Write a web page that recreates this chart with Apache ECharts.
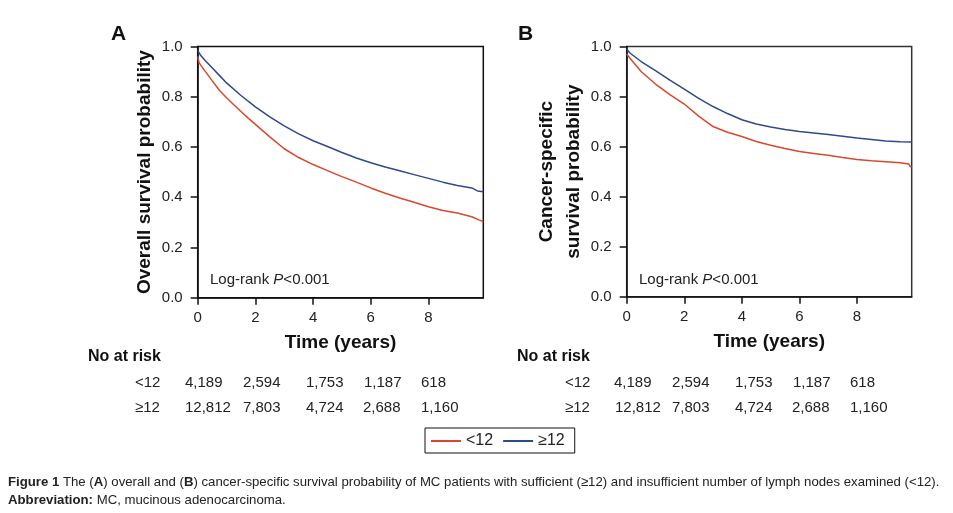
<!DOCTYPE html>
<html><head><meta charset="utf-8">
<script src="https://cdn.jsdelivr.net/npm/echarts@6/dist/echarts.min.js"></script>
<style>html,body{margin:0;padding:0;background:#fff}#c{width:953px;height:513px}</style>
</head><body><div id="c"></div>
<script>
// ---- Data ----
const osLowT  = [0, 0.05, 0.25, 0.5, 0.75, 1.0, 1.25, 1.5, 1.75, 2.0, 2.5, 3.0, 3.5, 4.0, 4.5, 5.0, 5.5, 6.0, 6.5, 7.0, 7.5, 8.0, 8.5, 9.0, 9.5, 9.75, 9.9];
const osLowS  = [0.96, 0.935, 0.903, 0.864, 0.826, 0.796, 0.768, 0.741, 0.715, 0.69, 0.64, 0.593, 0.558, 0.53, 0.506, 0.482, 0.46, 0.437, 0.416, 0.397, 0.38, 0.362, 0.347, 0.337, 0.322, 0.31, 0.303];
const osHighT = [0, 0.1, 0.25, 0.5, 0.75, 1.0, 1.5, 2.0, 2.5, 3.0, 3.5, 4.0, 4.5, 5.0, 5.5, 6.0, 6.5, 7.0, 7.5, 8.0, 8.5, 9.0, 9.5, 9.7, 9.9];
const osHighS = [0.985, 0.965, 0.945, 0.915, 0.885, 0.855, 0.805, 0.76, 0.72, 0.684, 0.652, 0.625, 0.602, 0.578, 0.556, 0.537, 0.52, 0.505, 0.49, 0.475, 0.46, 0.447, 0.437, 0.425, 0.422];
const cssLowT  = [0, 0.1, 0.5, 1.0, 1.5, 2.0, 2.5, 3.0, 3.5, 4.0, 4.5, 5.0, 5.5, 6.0, 6.5, 7.0, 7.5, 8.0, 8.5, 9.0, 9.5, 9.8, 9.85, 9.9];
const cssLowS  = [0.97, 0.955, 0.9, 0.85, 0.808, 0.77, 0.722, 0.68, 0.657, 0.64, 0.62, 0.605, 0.592, 0.58, 0.572, 0.565, 0.556, 0.548, 0.543, 0.539, 0.535, 0.53, 0.52, 0.518];
const cssHighT = [0, 0.1, 0.5, 1.0, 1.5, 2.0, 2.5, 3.0, 3.5, 4.0, 4.5, 5.0, 5.5, 6.0, 6.5, 7.0, 7.5, 8.0, 8.5, 9.0, 9.5, 9.9];
const cssHighS = [0.99, 0.975, 0.94, 0.904, 0.866, 0.83, 0.793, 0.76, 0.732, 0.707, 0.69, 0.678, 0.668, 0.66, 0.654, 0.648, 0.641, 0.634, 0.628, 0.622, 0.619, 0.618];
const groups = ['<12', '\u226512'];
const riskLow  = ['4,189', '2,594', '1,753', '1,187', '618'];
const riskHigh = ['12,812', '7,803', '4,724', '2,688', '1,160'];
const yTicks = [0, 0.2, 0.4, 0.6, 0.8, 1.0];
const xTicks = [0, 2, 4, 6, 8];

const RED = '#d9482c', BLUE = '#2e4a8a';
const FONT = '"Liberation Sans", Arial, sans-serif';
const zip = (t, s) => t.map((v, i) => [v, s[i]]);

const chart = echarts.init(document.getElementById('c'));

function xAxisCfg(gi) {
  return {
    type: 'value', gridIndex: gi, min: 0, max: 9.9, interval: 2,
    name: 'Time (years)', nameLocation: 'middle', nameGap: 36,
    nameTextStyle: { fontFamily: FONT, fontWeight: 'bold', fontSize: 19, color: '#111' },
    axisLine: { show: true, onZero: false, lineStyle: { color: '#111', width: 1.5 } },
    axisTick: { show: true, length: 7, customValues: xTicks, lineStyle: { color: '#111', width: 1.5 } },
    axisLabel: { fontFamily: FONT, fontSize: 15, color: '#222', margin: 13, customValues: xTicks,
      formatter: v => String(v) },
    splitLine: { show: false }
  };
}
function yAxisCfg(gi, name, gap) {
  return {
    type: 'value', gridIndex: gi, min: 0, max: 1, interval: 0.2,
    name: name, nameLocation: 'middle', nameGap: gap,
    nameTextStyle: { fontFamily: FONT, fontWeight: 'bold', fontSize: 19, color: '#111', lineHeight: 27 },
    axisLine: { show: true, lineStyle: { color: '#111', width: 1.5 } },
    axisTick: { show: true, length: 7, customValues: yTicks, lineStyle: { color: '#111', width: 1.5 } },
    axisLabel: { fontFamily: FONT, fontSize: 15, color: '#222', margin: 15, customValues: yTicks,
      formatter: v => v.toFixed(1) },
    splitLine: { show: false }
  };
}
function lineSeries(name, xi, data, color) {
  return { name: name, type: 'line', xAxisIndex: xi, yAxisIndex: xi, data: data,
    showSymbol: false, symbol: 'none', smooth: false, lineStyle: { color: color, width: 1.5 },
    itemStyle: { color: color }, animation: false, silent: true };
}

const graphics = [];
function txt(x, y, text, opts) {
  graphics.push({ type: 'text', left: x, top: y, silent: true,
    style: Object.assign({ text: text, fontFamily: FONT, fontSize: 15, fill: '#111' }, opts || {}) });
}
txt(111, 24, 'A', { fontSize: 21, fontWeight: 'bold' });
txt(518, 24, 'B', { fontSize: 21, fontWeight: 'bold' });
// Log-rank annotations
[210, 639].forEach(x => {
  graphics.push({ type: 'text', left: x, top: 272, silent: true,
    style: { text: 'Log-rank {i|P}<0.001', fontFamily: FONT, fontSize: 15, fill: '#222',
      rich: { i: { fontStyle: 'italic', fontFamily: FONT, fontSize: 15, fill: '#222' } } } });
});
// Risk tables
const riskCols = [[185, 243, 306, 364, 421], [614, 672, 735, 793, 850]];
const riskColsHigh = [[185, 243, 306, 363, 421], [615, 672, 735, 792, 850]];
const riskHead = [88, 517];
const rowLabelX = [135, 565];
[0, 1].forEach(p => {
  txt(riskHead[p], 349, 'No at risk', { fontWeight: 'bold', fontSize: 16 });
  txt(rowLabelX[p], 375, groups[0], { fontSize: 15, fill: '#222' });
  txt(rowLabelX[p], 400, groups[1], { fontSize: 15, fill: '#222' });
  riskLow.forEach((v, i) => txt(riskCols[p][i], 375, v, { fontSize: 15, fill: '#222' }));
  riskHigh.forEach((v, i) => txt(riskColsHigh[p][i], 400, v, { fontSize: 15, fill: '#222' }));
});
// Caption
const CAPF = '"Liberation Sans", Arial, sans-serif';
graphics.push({ type: 'text', left: 8, top: 476, silent: true,
  style: { text: '{b|Figure 1} The ({b|A}) overall and ({b|B}) cancer-specific survival probability of MC patients with sufficient (\u226512) and insufficient number of lymph nodes examined (<12).',
    fontFamily: CAPF, fontSize: 13.2, fill: '#222',
    rich: { b: { fontWeight: 'bold', fontFamily: CAPF, fontSize: 13.2, fill: '#222' } } } });
graphics.push({ type: 'text', left: 8, top: 494, silent: true,
  style: { text: '{b|Abbreviation:} MC, mucinous adenocarcinoma.',
    fontFamily: CAPF, fontSize: 13.2, fill: '#222',
    rich: { b: { fontWeight: 'bold', fontFamily: CAPF, fontSize: 13.2, fill: '#222' } } } });

chart.setOption({
  animation: false,
  backgroundColor: '#fff',
  grid: [
    { left: 197.7, right: 469.7, top: 46.5, bottom: 215.3, show: true, borderColor: '#111', borderWidth: 1.5, backgroundColor: 'transparent' },
    { left: 626.7, right: 41.3, top: 46.5, bottom: 216.3, show: true, borderColor: '#333', borderWidth: 1.5, backgroundColor: 'transparent' }
  ],
  xAxis: [xAxisCfg(0), xAxisCfg(1)],
  yAxis: [yAxisCfg(0, 'Overall survival probability', 37), yAxisCfg(1, 'Cancer-specific\nsurvival probability', 37)],
  legend: {
    data: groups, left: 425, top: 428, orient: 'horizontal',
    borderColor: '#111', borderWidth: 1, padding: [5, 10, 4, 6], itemGap: 10,
    icon: 'rect', itemWidth: 30, itemHeight: 2,
    textStyle: { fontFamily: FONT, fontSize: 16, color: '#222' }
  },
  series: [
    lineSeries(groups[0], 0, zip(osLowT, osLowS), RED),
    lineSeries(groups[1], 0, zip(osHighT, osHighS), BLUE),
    lineSeries(groups[0], 1, zip(cssLowT, cssLowS), RED),
    lineSeries(groups[1], 1, zip(cssHighT, cssHighS), BLUE)
  ],
  graphic: graphics
});
</script></body></html>
